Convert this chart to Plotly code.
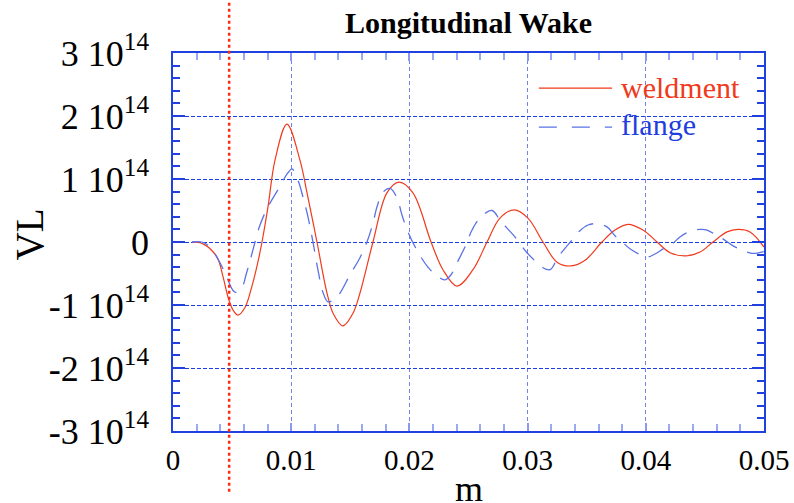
import plotly.graph_objects as go

# ---- data (x in metres, VL in units of 1e14) ----
weld_x = [0.00161, 0.00254, 0.00372, 0.00423, 0.00465, 0.00508, 0.00550, 0.00609, 0.00668, 0.00711,
          0.00753, 0.00804, 0.00863, 0.00964, 0.01074, 0.01134, 0.01218, 0.01303, 0.01354, 0.01438,
          0.01523, 0.01582, 0.01692, 0.01810, 0.01912, 0.02030, 0.02183, 0.02284, 0.02403, 0.02538,
          0.02657, 0.02766, 0.02885, 0.03003, 0.03130, 0.03249, 0.03367, 0.03486, 0.03629, 0.03739,
          0.03849, 0.03976, 0.04095, 0.04205, 0.04340, 0.04459, 0.04569, 0.04687, 0.04780, 0.04882,
          0.05000]
weld_v = [0.0, -0.03, -0.24, -0.55, -0.87, -1.08, -1.16, -1.04, -0.70, -0.38,
          0.0, 0.56, 1.30, 1.87, 1.30, 0.78, 0.0, -0.81, -1.13, -1.33,
          -1.13, -0.81, 0.0, 0.78, 0.95, 0.78, 0.0, -0.44, -0.70, -0.44,
          0.0, 0.38, 0.51, 0.38, 0.0, -0.32, -0.38, -0.29, 0.0, 0.19,
          0.28, 0.19, 0.0, -0.17, -0.22, -0.16, 0.0, 0.16, 0.20, 0.16,
          -0.08]

flange_x = [0.00161, 0.00245, 0.00313, 0.00398, 0.00457, 0.00508, 0.00533, 0.00584, 0.00618, 0.00660,
            0.00694, 0.00736, 0.00804, 0.00888, 0.00973, 0.01007, 0.01058, 0.01100, 0.01142, 0.01184,
            0.01227, 0.01269, 0.01311, 0.01371, 0.01413, 0.01497, 0.01582, 0.01641, 0.01692, 0.01726,
            0.01777, 0.01836, 0.01895, 0.01937, 0.01988, 0.02064, 0.02157, 0.02242, 0.02301, 0.02352,
            0.02403, 0.02470, 0.02530, 0.02597, 0.02699, 0.02766, 0.02826, 0.02893, 0.02995, 0.03063,
            0.03122, 0.03190, 0.03257, 0.03316, 0.03376, 0.03443, 0.03511, 0.03587, 0.03672, 0.03739,
            0.03799, 0.03875, 0.03951, 0.04010, 0.04078, 0.04154, 0.04230, 0.04289, 0.04374, 0.04459,
            0.04518, 0.04585, 0.04653, 0.04729, 0.04814, 0.04898, 0.05000]
flange_v = [0.0, 0.0, -0.08, -0.33, -0.57, -0.77, -0.80, -0.72, -0.52, -0.24,
            0.0, 0.27, 0.56, 0.83, 1.10, 1.16, 0.98, 0.71, 0.40, 0.0,
            -0.45, -0.80, -0.95, -0.90, -0.81, -0.52, -0.25, 0.0, 0.30, 0.56,
            0.79, 0.85, 0.70, 0.43, 0.16, -0.13, -0.40, -0.55, -0.60, -0.52,
            -0.33, -0.08, 0.19, 0.38, 0.50, 0.35, 0.22, 0.08, -0.17, -0.30,
            -0.40, -0.44, -0.24, -0.10, 0.03, 0.18, 0.27, 0.29, 0.24, 0.10,
            0.0, -0.12, -0.20, -0.24, -0.19, -0.10, -0.02, 0.08, 0.17, 0.20,
            0.19, 0.12, 0.05, -0.05, -0.13, -0.18, -0.15]

SCALE = 1e14
y_tick_vals = [3, 2, 1, 0, -1, -2, -3]
y_tick_text = ["3 10<sup>14</sup>", "2 10<sup>14</sup>", "1 10<sup>14</sup>", "0",
               "-1 10<sup>14</sup>", "-2 10<sup>14</sup>", "-3 10<sup>14</sup>"]
x_tick_vals = [0, 0.01, 0.02, 0.03, 0.04, 0.05]
x_tick_text = ["0", "0.01", "0.02", "0.03", "0.04", "0.05"]
marker_x = 0.00475
series_names = ["weldment", "flange"]
x_title = "m"
y_title = "VL"
chart_title = "Longitudinal Wake"

RED = "#f03a1c"
BLUE_TXT = "#1f3ee0"
BLUE_LINE = "#5a72e6"
AXIS_BLUE = "#2040e0"
SERIF = "Liberation Serif, Times New Roman, serif"

fig = go.Figure()
fig.add_trace(go.Scatter(x=weld_x, y=[v * SCALE for v in weld_v], mode="lines",
                         line=dict(color=RED, width=1.2, shape="spline", smoothing=1.0),
                         name=series_names[0], showlegend=False))
fig.add_trace(go.Scatter(x=flange_x, y=[v * SCALE for v in flange_v], mode="lines",
                         line=dict(color=BLUE_LINE, width=1.3, dash="17px,11px", shape="spline", smoothing=1.0),
                         name=series_names[1], showlegend=False))

# legend box (white) drawn above gridlines
fig.add_shape(type="rect", xref="paper", yref="paper", x0=0.5905, x1=0.997, y0=0.725, y1=0.995,
              fillcolor="white", line=dict(width=0), layer="between")
fig.add_shape(type="line", xref="paper", yref="paper", x0=0.619, x1=0.743, y0=0.907, y1=0.907,
              line=dict(color=RED, width=1.2))
fig.add_shape(type="line", xref="paper", yref="paper", x0=0.619, x1=0.743, y0=0.804, y1=0.804,
              line=dict(color=BLUE_LINE, width=1.3, dash="18px,15px"))
fig.add_annotation(xref="paper", yref="paper", x=0.754, y=0.910, xanchor="left", yanchor="middle",
                   text=series_names[0], showarrow=False, font=dict(family=SERIF, size=30, color=RED))
fig.add_annotation(xref="paper", yref="paper", x=0.754, y=0.812, xanchor="left", yanchor="middle",
                   text=series_names[1], showarrow=False, font=dict(family=SERIF, size=30, color=BLUE_TXT))

# axis titles
fig.add_annotation(xref="paper", yref="paper", x=0.5, y=-0.153, xanchor="center", yanchor="middle",
                   text=x_title, showarrow=False, font=dict(family=SERIF, size=36, color="black"))
fig.add_annotation(xref="paper", yref="paper", x=-0.2437, y=0.52, xanchor="center", yanchor="middle",
                   text=y_title, textangle=-90, showarrow=False, font=dict(family=SERIF, size=39, color="black"))

# red dotted marker line extending beyond plot
fig.add_shape(type="line", xref="x", yref="paper", x0=marker_x, x1=marker_x, y0=-0.161, y1=1.14,
              line=dict(color="#ff2a10", width=2.5, dash="dot"), layer="above")

fig.update_xaxes(range=[0, 0.05], tickvals=x_tick_vals, ticktext=x_tick_text, automargin=False,
                 showline=True, linecolor=AXIS_BLUE, linewidth=1.5, mirror="allticks",
                 ticks="inside", ticklen=8, tickcolor="#8a9af0", tickwidth=1.5,
                 showgrid=True, gridcolor="#7282ea", gridwidth=1, griddash="4px,3px",
                 zeroline=False,
                 minor=dict(dtick=0.002, ticks="inside", ticklen=7, tickcolor="#9aaaf2", tickwidth=1.5, showgrid=False),
                 tickfont=dict(family=SERIF, size=29, color="black"),
                 ticklabelstandoff=2)
fig.update_yaxes(range=[-3 * SCALE, 3 * SCALE], tickvals=[v * SCALE for v in y_tick_vals], ticktext=y_tick_text,
                 automargin=False,
                 showline=True, linecolor=AXIS_BLUE, linewidth=1.5, mirror="allticks",
                 ticks="inside", ticklen=12, tickcolor=AXIS_BLUE, tickwidth=1.5,
                 showgrid=True, gridcolor="#1a3ce0", gridwidth=1, griddash="4px,2px",
                 zeroline=False,
                 minor=dict(dtick=0.2 * SCALE, ticks="inside", ticklen=7, tickcolor=AXIS_BLUE, tickwidth=1.5, showgrid=False),
                 tickfont=dict(family=SERIF, size=36, color="black"),
                 ticklabelstandoff=15)

fig.update_layout(width=794, height=503, margin=dict(l=173, r=30, t=53, b=72),
                  plot_bgcolor="white", paper_bgcolor="white", showlegend=False,
                  title=dict(text="<b>" + chart_title + "</b>", x=0.5, xref="paper", xanchor="center",
                             y=0.9546, yanchor="middle", yref="container",
                             font=dict(family=SERIF, size=30, color="black")))

fig.write_html("out.html", config={"displayModeBar": False},
               post_script="document.body.style.margin='0';document.body.style.overflow='hidden';")
